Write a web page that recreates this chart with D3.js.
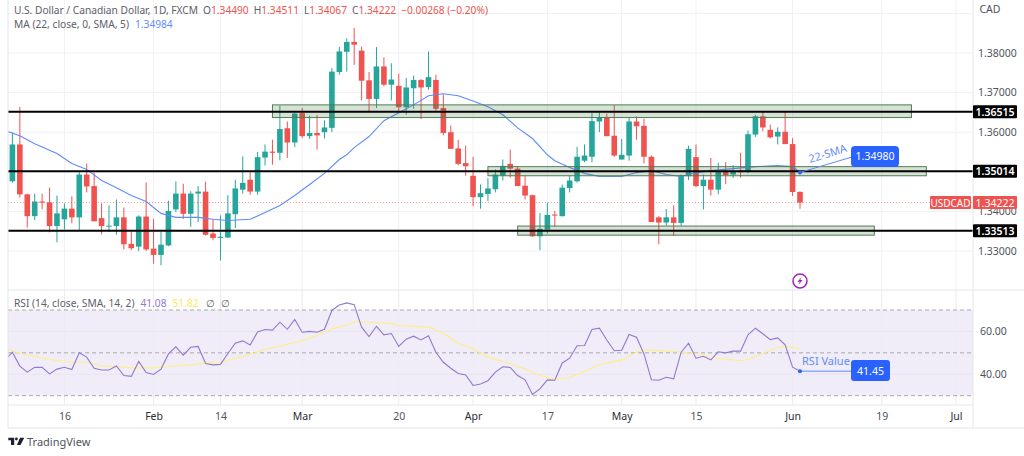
<!DOCTYPE html>
<html><head><meta charset="utf-8">
<script src="https://cdnjs.cloudflare.com/ajax/libs/d3/7.8.5/d3.min.js"></script>
<style>html,body{margin:0;padding:0;background:#fff}svg{display:block}text{font-family:"Noto Sans","Open Sans",sans-serif}</style>
</head><body><svg id="c" width="1024" height="456"></svg>
<script>
const opens=[1.3476,1.3569,1.3443,1.3388,1.3425,1.3423,1.3363,1.3380,1.3407,1.3385,1.3493,1.3464,1.3383,1.3363,1.3363,1.3385,1.3318,1.3311,1.3387,1.3306,1.3290,1.3314,1.3405,1.3445,1.3394,1.3445,1.3450,1.3344,1.3333,1.3334,1.3393,1.3455,1.3480,1.3450,1.3536,1.3551,1.3548,1.3610,1.3574,1.3648,1.3590,1.3598,1.3600,1.3611,1.3752,1.3803,1.3828,1.3806,1.3731,1.3684,1.3766,1.3720,1.3717,1.3663,1.3711,1.3732,1.3714,1.3732,1.3661,1.3600,1.3559,1.3522,1.3490,1.3436,1.3444,1.3456,1.3490,1.3520,1.3508,1.3465,1.3441,1.3337,1.3354,1.3392,1.3388,1.3459,1.3476,1.3528,1.3538,1.3627,1.3637,1.3591,1.3531,1.3541,1.3627,1.3616,1.3538,1.3385,1.3372,1.3385,1.3371,1.3489,1.3537,1.3464,1.3480,1.3455,1.3502,1.3493,1.3504,1.3502,1.3594,1.3640,1.3606,1.3589,1.3601,1.3570,1.3449];
const highs=[1.3599,1.3664,1.3445,1.3445,1.3445,1.3460,1.3440,1.3420,1.3438,1.3501,1.3521,1.3498,1.3420,1.3415,1.3430,1.3410,1.3349,1.3390,1.3473,1.3381,1.3348,1.3427,1.3476,1.3470,1.3451,1.3464,1.3475,1.3381,1.3390,1.3441,1.3480,1.3539,1.3500,1.3550,1.3569,1.3581,1.3667,1.3627,1.3649,1.3661,1.3642,1.3644,1.3630,1.3762,1.3815,1.3837,1.3863,1.3816,1.3752,1.3815,1.3789,1.3774,1.3748,1.3737,1.3743,1.3734,1.3804,1.3745,1.3695,1.3617,1.3581,1.3566,1.3538,1.3468,1.3484,1.3506,1.3531,1.3556,1.3514,1.3490,1.3442,1.3396,1.3422,1.3401,1.3468,1.3490,1.3563,1.3569,1.3648,1.3650,1.3647,1.3668,1.3583,1.3636,1.3640,1.3634,1.3541,1.3388,1.3406,1.3415,1.3493,1.3566,1.3569,1.3493,1.3535,1.3523,1.3524,1.3517,1.3548,1.3604,1.3644,1.3652,1.3619,1.3612,1.3652,1.3585,1.34511];
const lows=[1.3473,1.3435,1.3359,1.3378,1.3405,1.3347,1.3322,1.3354,1.3370,1.3352,1.3448,1.3375,1.3342,1.3348,1.3341,1.3304,1.3302,1.3300,1.3300,1.3268,1.3264,1.3312,1.3398,1.3381,1.3361,1.3373,1.3339,1.3327,1.3276,1.3333,1.3358,1.3445,1.3442,1.3442,1.3516,1.3518,1.3529,1.3535,1.3562,1.3585,1.3583,1.3556,1.3584,1.3600,1.3745,1.3753,1.3770,1.3680,1.3653,1.3661,1.3716,1.3680,1.3653,1.3644,1.3659,1.3633,1.3707,1.3650,1.3592,1.3558,1.3516,1.3490,1.3413,1.3407,1.3426,1.3448,1.3478,1.3485,1.3464,1.3430,1.3336,1.3302,1.3344,1.3361,1.3387,1.3448,1.3473,1.3524,1.3524,1.3600,1.3590,1.3537,1.3531,1.3528,1.3581,1.3521,1.3373,1.3317,1.3364,1.3338,1.3364,1.3479,1.3461,1.3405,1.3440,1.3443,1.3469,1.3484,1.3485,1.3496,1.3588,1.3602,1.3584,1.3569,1.3570,1.3439,1.34067];
const closes=[1.3569,1.3443,1.3388,1.3425,1.3422,1.3363,1.3395,1.3407,1.3385,1.3493,1.3463,1.3375,1.3363,1.3364,1.3385,1.3317,1.3307,1.3387,1.3304,1.3290,1.3316,1.3401,1.3445,1.3394,1.3445,1.3450,1.3341,1.3333,1.3336,1.3395,1.3458,1.3472,1.3450,1.3537,1.3551,1.3548,1.3608,1.3574,1.3647,1.3590,1.3598,1.3592,1.3612,1.3753,1.3804,1.3828,1.3821,1.3730,1.3684,1.3766,1.3720,1.3733,1.3663,1.3713,1.3732,1.3713,1.3739,1.3659,1.3598,1.3558,1.3520,1.3514,1.3436,1.3446,1.3458,1.3493,1.3515,1.3508,1.3464,1.3440,1.3337,1.3356,1.3391,1.3390,1.3460,1.3478,1.3538,1.3541,1.3628,1.3637,1.3590,1.3541,1.3543,1.3627,1.3615,1.3538,1.3373,1.3372,1.3385,1.3371,1.3491,1.3558,1.3464,1.3480,1.3455,1.3502,1.3492,1.3502,1.3499,1.3595,1.3640,1.3612,1.3587,1.3601,1.3570,1.3449,1.34222];
const maIndex=[-1,1,3,6,8,10,12,14,16,18,20,22,25,27,29,32,34,36,38,40,42,44,45,46,48,50,52,54,56,58,60,62,64,66,68,70,72,73,75,77,79,82,84,86,88,90,92,94,97,100,103,105,106];
const maValues=[1.3604,1.3591,1.3571,1.3546,1.3521,1.3506,1.3478,1.3460,1.3440,1.3425,1.3395,1.3385,1.3385,1.3380,1.3377,1.3380,1.3397,1.3415,1.3440,1.3468,1.3496,1.3531,1.3543,1.3561,1.3589,1.3629,1.3649,1.3669,1.3692,1.3697,1.3692,1.3679,1.3664,1.3644,1.3611,1.3584,1.3543,1.3528,1.3511,1.3496,1.3488,1.3488,1.3498,1.3503,1.3493,1.3488,1.3498,1.3503,1.3508,1.3513,1.3516,1.3513,1.34984];
const rsiValues=[50.3,43.8,41,43.3,43.2,40.2,42.4,43.3,42.2,50,48,42.8,42,42,43.9,39.4,39,46,40.8,39.9,42.4,49.5,52.8,48.9,52.6,53,45,44.4,44.6,49.7,54.5,55.6,53.7,59.8,60.9,60.6,64.3,61,65.6,59.6,60,59.6,61,69.8,72.3,73.3,72.5,62,57.6,62.4,58.4,59,53,56.4,57.8,56,58,50.3,45.6,42.8,40.4,39.7,34.8,35.5,37,41,43.5,43.2,39.4,37.4,30.6,33.2,37.4,37.2,45.3,47.5,53.3,53.4,60.9,61.5,56,51,51.2,58.6,57.3,49.5,37.4,37.2,38.6,37.9,50.3,54.5,47.5,48.4,46.7,50.5,50,50.8,50.8,58.4,61.5,58.9,56.2,57,53.7,43.3,41.45];
const rsiLeadIndex=-1, rsiLeadValue=46.5;
const smaIndex=[-1,1,3,5,8,10,12,14,16,19,21,22,24,26,28,30,32,34,36,39,41,43,45,46,49,51,52,56,58,60,62,64,67,69,71,73,75,77,79,82,84,85,88,90,92,94,98,99,101,103,104,106];
const smaValues=[52.2,49.7,48.4,46.9,45.6,45.6,43.9,43.6,43,43,43.6,44.1,44.4,45.2,45.5,47.5,49.1,51.7,53.1,55.8,58.1,61.2,63,64.5,64.2,63.7,62.8,62,59.3,54.5,51.9,48,44.9,42.5,39.4,37.7,38.5,41.3,44.6,46.6,50.3,51.4,50.9,50.3,49.7,47.8,46.3,46.9,49.7,52.6,53.1,51.9];
const priceTicks=[1.33,1.34,1.35,1.36,1.37,1.38];
const priceGrid=[1.33,1.34,1.35,1.36,1.37,1.38,1.39];
const rsiTicks=[40,60];
const rsiBands=[30,50,70];
const timeIdx=[7,19,28,39,52,62,72,82,92,105,117,127];
const timeLabels=["16","Feb","14","Mar","20","Apr","17","May","15","Jun","19","Jul"];
const majorLabels=["Feb","Mar","Apr","May","Jun","Jul"];
const levels=[1.36515,1.35014,1.33513];
const levelLabels=["1.36515","1.35014","1.33513"];
const zoneStart=[35,64,68], zoneEnd=[121,123,116];
const zoneHigh=[1.3669,1.3513,1.3363], zoneLow=[1.3637,1.3490,1.3340];
const lastClose=1.34222, lastMA=1.34984, lastRSI=41.45;

const svg=d3.select("#c");
const L=8,R=973,PT=0,PB=290,RT=290,RB=405,TB=428;
const x=d3.scaleLinear().domain([0,106]).range([12.4,800]);
const y=d3.scaleLinear().domain([1.33,1.38]).range([251,53]);
const r=d3.scaleLinear().domain([30,70]).range([395.7,310]);
const grid="#f1f1f4", border="#e4e5ea", UP="#26a69a", DN="#ef5350", BLUE="#2962ff", TXT="#50535e";

const defs=svg.append("defs");
defs.append("clipPath").attr("id","pc").append("rect").attr("x",L).attr("y",PT).attr("width",R-L).attr("height",PB-PT);
defs.append("clipPath").attr("id","rc").append("rect").attr("x",L).attr("y",RT).attr("width",R-L).attr("height",RB-RT);

const gP=svg.append("g").attr("clip-path","url(#pc)");
const gR=svg.append("g").attr("clip-path","url(#rc)");

// grid
gP.selectAll(".hg").data(priceGrid).join("line").attr("x1",L).attr("x2",R).attr("y1",d=>y(d)).attr("y2",d=>y(d)).attr("stroke",grid);
gP.selectAll(".vg").data(timeIdx).join("line").attr("x1",d=>x(d)).attr("x2",d=>x(d)).attr("y1",PT).attr("y2",PB).attr("stroke",grid);

// candles
const idx=d3.range(opens.length);
const cg=gP.append("g");
cg.selectAll(".w").data(idx).join("line")
 .attr("x1",i=>x(i)).attr("x2",i=>x(i)).attr("y1",i=>y(highs[i])).attr("y2",i=>y(lows[i]))
 .attr("stroke",i=>closes[i]>=opens[i]?UP:DN).attr("stroke-width",1);
cg.selectAll(".b").data(idx).join("rect")
 .attr("x",i=>x(i)-2.8).attr("width",5.6)
 .attr("y",i=>y(Math.max(opens[i],closes[i])))
 .attr("height",i=>Math.max(1,Math.abs(y(opens[i])-y(closes[i]))))
 .attr("fill",i=>closes[i]>=opens[i]?UP:DN);

// MA
const maLine=d3.line().x(i=>x(maIndex[i])).y(i=>y(maValues[i]));
gP.append("path").attr("d",maLine(d3.range(maIndex.length))).attr("fill","none").attr("stroke","#5f8bff").attr("stroke-width",1.1);

// last price line
gP.append("line").attr("x1",L).attr("x2",R).attr("y1",y(lastClose)).attr("y2",y(lastClose)).attr("stroke",DN).attr("stroke-opacity",.6).attr("stroke-dasharray","1 2");

// zones
gP.selectAll(".z").data(zoneStart).join("rect")
 .attr("x",(d,i)=>x(zoneStart[i])).attr("width",(d,i)=>x(zoneEnd[i])-x(zoneStart[i]))
 .attr("y",(d,i)=>y(zoneHigh[i])).attr("height",(d,i)=>y(zoneLow[i])-y(zoneHigh[i]))
 .attr("fill","rgba(56,110,56,0.2)").attr("stroke","#4f7d52").attr("stroke-width",1);

// levels
gP.selectAll(".l").data(levels).join("line").attr("x1",L).attr("x2",R).attr("y1",d=>y(d)).attr("y2",d=>y(d)).attr("stroke","#000").attr("stroke-width",2);

// annotation 22-SMA
const ax=x(106), ay=y(lastMA);
svg.append("line").attr("x1",ax).attr("y1",ay).attr("x2",852).attr("y2",157).attr("stroke","#5f8bff").attr("stroke-width",1);
svg.append("circle").attr("cx",ax).attr("cy",ay).attr("r",2).attr("fill",BLUE);
svg.append("text").attr("transform","translate(810,163) rotate(-17)").attr("font-size",11).attr("fill","#5f8bff").text("22-SMA");
svg.append("rect").attr("x",851).attr("y",146).attr("width",48).attr("height",21).attr("rx",4).attr("fill",BLUE);
svg.append("text").attr("x",875).attr("y",160).attr("text-anchor","middle").attr("font-size",10.5).attr("fill","#fff").text(d3.format(".5f")(1.3498));

// lightning
const lg=svg.append("g").attr("transform",`translate(${x(106)},281)`);
lg.append("circle").attr("r",7).attr("fill","#fff").attr("stroke","#9c27b0").attr("stroke-width",1.5);
lg.append("path").attr("d","M1.8,-4.2 L-2.6,0.8 L-0.2,0.8 L-1.8,4.2 L2.6,-0.9 L0.2,-0.9 Z").attr("fill","#9c27b0");

// RSI pane
gR.append("rect").attr("x",L).attr("width",R-L).attr("y",r(70)).attr("height",r(30)-r(70)).attr("fill","#f0edf8");
gR.selectAll(".hg").data(rsiTicks).join("line").attr("x1",L).attr("x2",R).attr("y1",d=>r(d)).attr("y2",d=>r(d)).attr("stroke","#e7e5f0");
gR.selectAll(".vg").data(timeIdx).join("line").attr("x1",d=>x(d)).attr("x2",d=>x(d)).attr("y1",RT).attr("y2",RB).attr("stroke","#ecebf2");
gR.selectAll(".d").data(rsiBands).join("line").attr("x1",L).attr("x2",R).attr("y1",d=>r(d)).attr("y2",d=>r(d)).attr("stroke","#a8a8ad").attr("stroke-dasharray","4 3");
const smaLine=d3.line().x(i=>x(smaIndex[i])).y(i=>r(smaValues[i]));
gR.append("path").attr("d",smaLine(d3.range(smaIndex.length))).attr("fill","none").attr("stroke","#ffee85").attr("stroke-width",1.1);
const rsiPts=[[rsiLeadIndex,rsiLeadValue]].concat(rsiValues.map((v,i)=>[i,v]));
gR.append("path").attr("d",d3.line().x(d=>x(d[0])).y(d=>r(d[1]))(rsiPts)).attr("fill","none").attr("stroke","#9278cf").attr("stroke-width",1.1);

// RSI annotation
const bx=x(106), by=r(lastRSI);
svg.append("line").attr("x1",bx).attr("x2",852).attr("y1",by).attr("y2",by).attr("stroke","#5f8bff").attr("stroke-width",1);
svg.append("circle").attr("cx",bx).attr("cy",by).attr("r",2).attr("fill",BLUE);
svg.append("text").attr("x",802).attr("y",365).attr("font-size",11).attr("fill","#5f8bff").text("RSI Value");
svg.append("rect").attr("x",851).attr("y",360).attr("width",39).attr("height",21).attr("rx",3).attr("fill",BLUE);
svg.append("text").attr("x",870.5).attr("y",374.5).attr("text-anchor","middle").attr("font-size",10.5).attr("fill","#fff").text(d3.format(".2f")(lastRSI));

// frames
const fr=[[L,0,L,TB],[R,0,R,TB],[L,RT,1024,RT],[L,RB,R,RB],[L,TB,1024,TB]];
svg.selectAll(".fr").data(fr).join("line").attr("x1",d=>d[0]).attr("y1",d=>d[1]).attr("x2",d=>d[2]).attr("y2",d=>d[3]).attr("stroke",border);

// axes
const pa=svg.append("g").attr("transform",`translate(${R},0)`).call(d3.axisRight(y).tickValues(priceTicks).tickSize(0).tickPadding(5).tickFormat(d3.format(".5f")));
pa.select(".domain").remove(); pa.selectAll("text").attr("font-size",10.5).attr("fill",TXT).attr("font-family",'"Noto Sans"');
const ra=svg.append("g").attr("transform",`translate(${R},0)`).call(d3.axisRight(r).tickValues(rsiTicks).tickSize(0).tickPadding(7).tickFormat(d3.format(".2f")));
ra.select(".domain").remove(); ra.selectAll("text").attr("font-size",10.5).attr("fill",TXT).attr("font-family",'"Noto Sans"');
const ta=svg.append("g").attr("transform",`translate(0,${RB})`).call(d3.axisBottom(x).tickValues(timeIdx).tickSize(0).tickPadding(8).tickFormat((d,i)=>timeLabels[i]));
ta.select(".domain").remove(); ta.selectAll("text").attr("font-size",10.5).attr("font-family",'"Noto Sans"')
 .attr("fill",(d,i)=>majorLabels.includes(timeLabels[i])?"#2a2e39":TXT);

svg.append("text").attr("x",990).attr("y",13).attr("font-size",10.5).attr("fill",TXT).attr("text-anchor","middle").text("CAD");

// level tags
const tg=svg.append("g");
tg.selectAll("rect").data(levels).join("rect").attr("x",R).attr("width",44).attr("y",d=>y(d)-6.5).attr("height",13).attr("fill","#000").attr("rx",1);
tg.selectAll("text").data(levels).join("text").attr("x",R+22).attr("y",d=>y(d)+4).attr("text-anchor","middle").attr("font-size",10.5).attr("font-weight",600).attr("fill","#fff").text((d,i)=>levelLabels[i]);

// last price tags
const ly=y(lastClose);
svg.append("rect").attr("x",930).attr("y",ly-6.5).attr("width",41).attr("height",13).attr("rx",1).attr("fill",DN);
svg.append("text").attr("x",950.5).attr("y",ly+4).attr("text-anchor","middle").attr("font-size",10).attr("fill","#fff").text("USDCAD");
svg.append("rect").attr("x",R).attr("y",ly-6.5).attr("width",44).attr("height",13).attr("rx",1).attr("fill",DN);
svg.append("text").attr("x",R+22).attr("y",ly+4).attr("text-anchor","middle").attr("font-size",10.5).attr("fill","#fff").text(d3.format(".5f")(lastClose));

// legends
function runs(yy,list){const t=svg.append("text").attr("x",14).attr("y",yy).attr("font-size",10.2);
 list.forEach(([s,c,dx])=>{const e=t.append("tspan").attr("fill",c).text(s); if(dx)e.attr("dx",dx);});}
const HD="#5d606b";
runs(14,[["U.S. Dollar / Canadian Dollar, 1D, FXCM",HD],["O",HD,5],["1.34490",DN],["H",HD,5],["1.34511",DN],["L",HD,5],["1.34067",DN],["C",HD,5],["1.34222",DN],["−0.00268 (−0.20%)",DN,5]]);
runs(28,[["MA (22, close, 0, SMA, 5)",HD],["1.34984","#5f8bff",6]]);
runs(307,[["RSI (14, close, SMA, 14, 2)",HD],["41.08","#9278cf",6],["51.82","#ffe75c",6],["∅","#5d606b",7],["∅","#5d606b",6]]);

// branding
svg.append("path").attr("d","M8.3,437.7H14.2V445H11V440.2H8.3Z M20,437.7H24.2L20.6,445H16.9Z").attr("fill","#1e222d");
svg.append("circle").attr("cx",16.4).attr("cy",439).attr("r",1.4).attr("fill","#1e222d");
svg.append("text").attr("x",27).attr("y",446).attr("font-size",11).attr("fill","#50535e").text("TradingView");
</script></body></html>
